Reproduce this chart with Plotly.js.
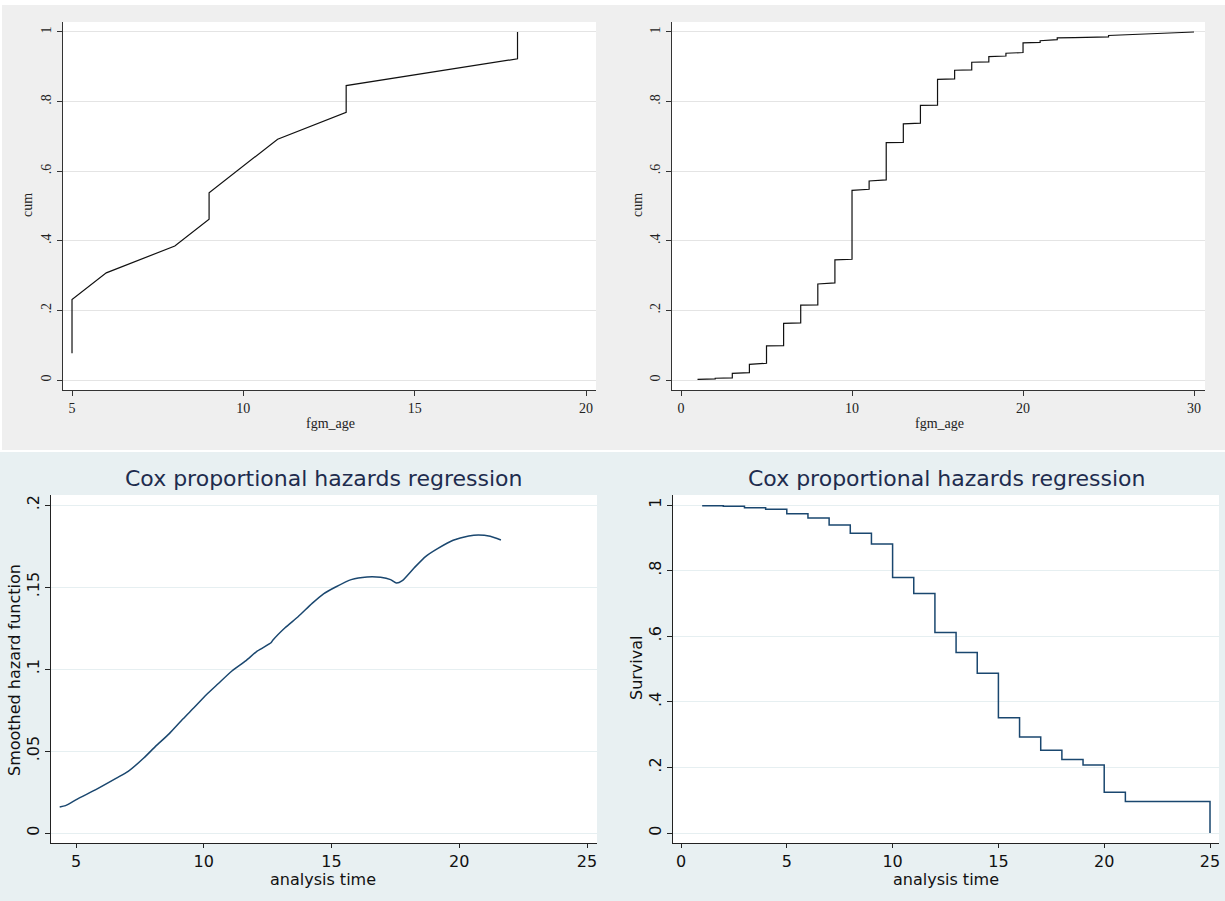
<!DOCTYPE html>
<html>
<head>
<meta charset="utf-8">
<script src="https://cdn.plot.ly/plotly-3.0.1.min.js"></script>
<style>html,body{margin:0;padding:0;background:#fff;}#chart{width:1225px;height:901px;}</style>
</head>
<body>
<div id="chart"></div>
<script>
// ---- Data ----
// Top-left: cumulative share vs fgm_age (line)
const tlAge = [5, 5, 6, 8, 9, 9, 11, 13, 13, 18, 18];
const tlCum = [0.077, 0.231, 0.308, 0.385, 0.462, 0.538, 0.692, 0.769, 0.846, 0.923, 1.0];

// Top-right: cumulative share by age (first and last observation at each age)
const trAge     = [1, 2, 3, 4, 5, 6, 7, 8, 9, 10, 11, 12, 13, 14, 15, 16, 17, 18, 19, 20, 21, 22, 23, 24, 25, 26, 27, 28, 29, 30];
const trCumLow  = [0.000, 0.003, 0.006, 0.021, 0.048, 0.099, 0.164, 0.216, 0.279, 0.347, 0.548, 0.575, 0.683, 0.738, 0.790, 0.865, 0.891, 0.914, 0.931, 0.941, 0.970, 0.978, 0.984, 0.985, 0.986, 0.992, 0.995, 0.997, 0.998, 1.000];
const trCumHigh = [0.002, 0.005, 0.019, 0.045, 0.098, 0.163, 0.215, 0.276, 0.345, 0.545, 0.572, 0.682, 0.736, 0.789, 0.864, 0.890, 0.913, 0.929, 0.939, 0.969, 0.975, 0.983, 0.984, 0.985, 0.990, 0.994, 0.996, 0.997, 0.999, 1.000];

// Bottom-left: smoothed hazard function
const hzTime = [4.36, 4.59, 5.05, 5.81, 6.58, 7.04, 7.65, 8.11, 8.65, 9.18, 9.64, 10.1, 10.56, 11.1, 11.64, 12.1, 12.63, 12.7, 13.17, 13.7, 14.24, 14.7, 15.16, 15.77, 16.39, 16.92, 17.31, 17.54, 17.77, 18.23, 18.69, 19.15, 19.76, 20.37, 20.75, 21.21, 21.63];
const hzVal  = [0.0159, 0.0167, 0.0207, 0.0268, 0.0335, 0.0376, 0.0457, 0.0528, 0.0606, 0.0695, 0.0768, 0.0843, 0.0910, 0.0988, 0.1050, 0.1110, 0.1160, 0.1175, 0.1250, 0.1320, 0.1400, 0.1460, 0.1500, 0.1545, 0.1561, 0.1559, 0.1545, 0.1524, 0.1539, 0.1616, 0.1687, 0.1734, 0.1785, 0.1811, 0.1817, 0.1809, 0.1787];

// Bottom-right: survival function (step)
const svTime = [1, 2, 3, 4, 5, 6, 7, 8, 9, 10, 11, 12, 13, 14, 15, 16, 17, 18, 19, 20, 21, 22, 23, 24, 25];
const svVal  = [0.998, 0.996, 0.992, 0.987, 0.973, 0.960, 0.939, 0.914, 0.881, 0.779, 0.730, 0.611, 0.550, 0.487, 0.351, 0.293, 0.252, 0.224, 0.207, 0.124, 0.096, 0.096, 0.096, 0.096, 0.0];

// Tick labels
const cumTicks = [0, 0.2, 0.4, 0.6, 0.8, 1];
const cumTickText = ["0", ".2", ".4", ".6", ".8", "1"];
const hzTicks = [0, 0.05, 0.1, 0.15, 0.2];
const hzTickText = ["0", ".05", ".1", ".15", ".2"];
const tlXTicks = [5, 10, 15, 20];
const trXTicks = [0, 10, 20, 30];
const blXTicks = [5, 10, 15, 20, 25];
const brXTicks = [0, 5, 10, 15, 20, 25];
const titleText = "Cox proportional hazards regression";

// ---- Build top-right series from first/last values ----
const trX = [], trY = [];
trAge.forEach((a, i) => { trX.push(a, a); trY.push(trCumLow[i], trCumHigh[i]); });

// ---- Layout helpers ----
const W = 1225, H = 901;
const px = v => v / W;
const py = v => 1 - v / H;

const serif = "Liberation Serif, Times New Roman, serif";
const sans = "DejaVu Sans, Verdana, sans-serif";
const topTxt = "#222";
const navy = "#1a476f";

function topAxisX(dom, range, ticks) {
  return {domain: dom, range: range, tickmode: 'array', tickvals: ticks, ticktext: ticks.map(String),
    showgrid: false, zeroline: false, showline: true, linecolor: '#333', linewidth: 1,
    ticks: 'outside', ticklen: 5, tickcolor: '#333', tickfont: {family: serif, size: 14, color: topTxt}, fixedrange: true};
}
function topAxisY(dom, anchor) {
  return {domain: dom, range: [-0.0287, 1.0287], anchor: anchor, tickmode: 'array', tickvals: cumTicks, ticktext: cumTickText,
    tickangle: -90, showgrid: true, gridcolor: '#e4e4e4', gridwidth: 1, zeroline: false, showline: true, linecolor: '#333', linewidth: 1,
    ticks: 'outside', ticklen: 5, tickcolor: '#333', tickfont: {family: serif, size: 14, color: topTxt}, fixedrange: true};
}
function botAxisX(dom, range, ticks) {
  return {domain: dom, range: range, tickmode: 'array', tickvals: ticks, ticktext: ticks.map(String),
    showgrid: false, zeroline: false, showline: true, linecolor: '#222', linewidth: 1,
    ticks: 'outside', ticklen: 4, tickcolor: '#222', tickfont: {family: sans, size: 16, color: '#111'}, fixedrange: true};
}
function botAxisY(dom, range, ticks, text) {
  return {domain: dom, range: range, tickmode: 'array', tickvals: ticks, ticktext: text,
    tickangle: -90, showgrid: true, gridcolor: '#e6eff1', gridwidth: 1, zeroline: false, showline: true, linecolor: '#222', linewidth: 1,
    ticks: 'outside', ticklen: 5, tickcolor: '#222', tickfont: {family: sans, size: 16, color: '#111'}, fixedrange: true};
}

const topYDom = [py(390), py(22)];
const botYDom = [py(843), py(495)];
const plotBoxes = [[63, 596, 22, 390], [672, 1205, 22, 390], [51, 597, 495, 843], [673, 1219, 495, 843]];

const traces = [
  {x: tlAge, y: tlCum, type: 'scatter', mode: 'lines', line: {color: '#111', width: 1.2}, xaxis: 'x', yaxis: 'y', hoverinfo: 'skip'},
  {x: trX, y: trY, type: 'scatter', mode: 'lines', line: {color: '#111', width: 1.2}, xaxis: 'x2', yaxis: 'y2', hoverinfo: 'skip'},
  {x: hzTime, y: hzVal, type: 'scatter', mode: 'lines', line: {color: navy, width: 1.5, shape: 'spline', smoothing: 0.6}, xaxis: 'x3', yaxis: 'y3', hoverinfo: 'skip'},
  {x: svTime, y: svVal, type: 'scatter', mode: 'lines', line: {color: navy, width: 1.5, shape: 'hv'}, xaxis: 'x4', yaxis: 'y4', hoverinfo: 'skip'}
];

const shapes = [
  {type: 'rect', xref: 'paper', yref: 'paper', x0: px(2), x1: 1, y0: py(450), y1: py(5), fillcolor: '#efefef', line: {width: 0}, layer: 'below'},
  {type: 'rect', xref: 'paper', yref: 'paper', x0: 0, x1: 1, y0: 0, y1: py(452), fillcolor: '#e8f0f2', line: {width: 0}, layer: 'below'}
];
plotBoxes.forEach(b => shapes.push({type: 'rect', xref: 'paper', yref: 'paper', x0: px(b[0]), x1: px(b[1]), y0: py(b[3]), y1: py(b[2]), fillcolor: '#ffffff', line: {width: 0}, layer: 'below'}));

const layout = {
  width: W, height: H, margin: {l: 0, r: 0, t: 0, b: 0},
  paper_bgcolor: '#ffffff', plot_bgcolor: '#ffffff', showlegend: false,
  xaxis:  topAxisX([px(63), px(596)], [4.737, 20.29], tlXTicks),
  yaxis:  topAxisY(topYDom, 'x'),
  xaxis2: Object.assign(topAxisX([px(672), px(1205)], [-0.526, 30.64], trXTicks), {anchor: 'y2'}),
  yaxis2: topAxisY(topYDom, 'x2'),
  xaxis3: Object.assign(botAxisX([px(51), px(597)], [4.02, 25.39], blXTicks), {anchor: 'y3'}),
  yaxis3: Object.assign(botAxisY(botYDom, [-0.0061, 0.2061], hzTicks, hzTickText), {anchor: 'x3'}),
  xaxis4: Object.assign(botAxisX([px(673), px(1219)], [-0.378, 25.425], brXTicks), {anchor: 'y4'}),
  yaxis4: Object.assign(botAxisY(botYDom, [-0.0305, 1.0305], cumTicks, cumTickText), {anchor: 'x4'}),
  shapes: shapes,
  annotations: [
    {text: 'fgm_age', xref: 'paper', yref: 'paper', x: px(330), y: py(423), showarrow: false, xanchor: 'center', yanchor: 'middle', font: {family: serif, size: 14, color: topTxt}},
    {text: 'fgm_age', xref: 'paper', yref: 'paper', x: px(939), y: py(423), showarrow: false, xanchor: 'center', yanchor: 'middle', font: {family: serif, size: 14, color: topTxt}},
    {text: 'cum', xref: 'paper', yref: 'paper', x: px(28), y: py(205), textangle: -90, showarrow: false, xanchor: 'center', yanchor: 'middle', font: {family: serif, size: 14, color: topTxt}},
    {text: 'cum', xref: 'paper', yref: 'paper', x: px(638), y: py(205), textangle: -90, showarrow: false, xanchor: 'center', yanchor: 'middle', font: {family: serif, size: 14, color: topTxt}},
    {text: titleText, xref: 'paper', yref: 'paper', x: px(323), y: py(478), showarrow: false, xanchor: 'center', yanchor: 'middle', font: {family: sans, size: 22, color: '#1e2c4e'}},
    {text: titleText, xref: 'paper', yref: 'paper', x: px(946), y: py(478), showarrow: false, xanchor: 'center', yanchor: 'middle', font: {family: sans, size: 22, color: '#1e2c4e'}},
    {text: 'analysis time', xref: 'paper', yref: 'paper', x: px(323), y: py(879), showarrow: false, xanchor: 'center', yanchor: 'middle', font: {family: sans, size: 16, color: '#111'}},
    {text: 'analysis time', xref: 'paper', yref: 'paper', x: px(946), y: py(879), showarrow: false, xanchor: 'center', yanchor: 'middle', font: {family: sans, size: 16, color: '#111'}},
    {text: 'Smoothed hazard function', xref: 'paper', yref: 'paper', x: px(14), y: py(670), textangle: -90, showarrow: false, xanchor: 'center', yanchor: 'middle', font: {family: sans, size: 16, color: '#111'}},
    {text: 'Survival', xref: 'paper', yref: 'paper', x: px(636), y: py(668), textangle: -90, showarrow: false, xanchor: 'center', yanchor: 'middle', font: {family: sans, size: 16, color: '#111'}}
  ]
};

Plotly.newPlot('chart', traces, layout, {staticPlot: true, displayModeBar: false});
</script>
</body>
</html>
